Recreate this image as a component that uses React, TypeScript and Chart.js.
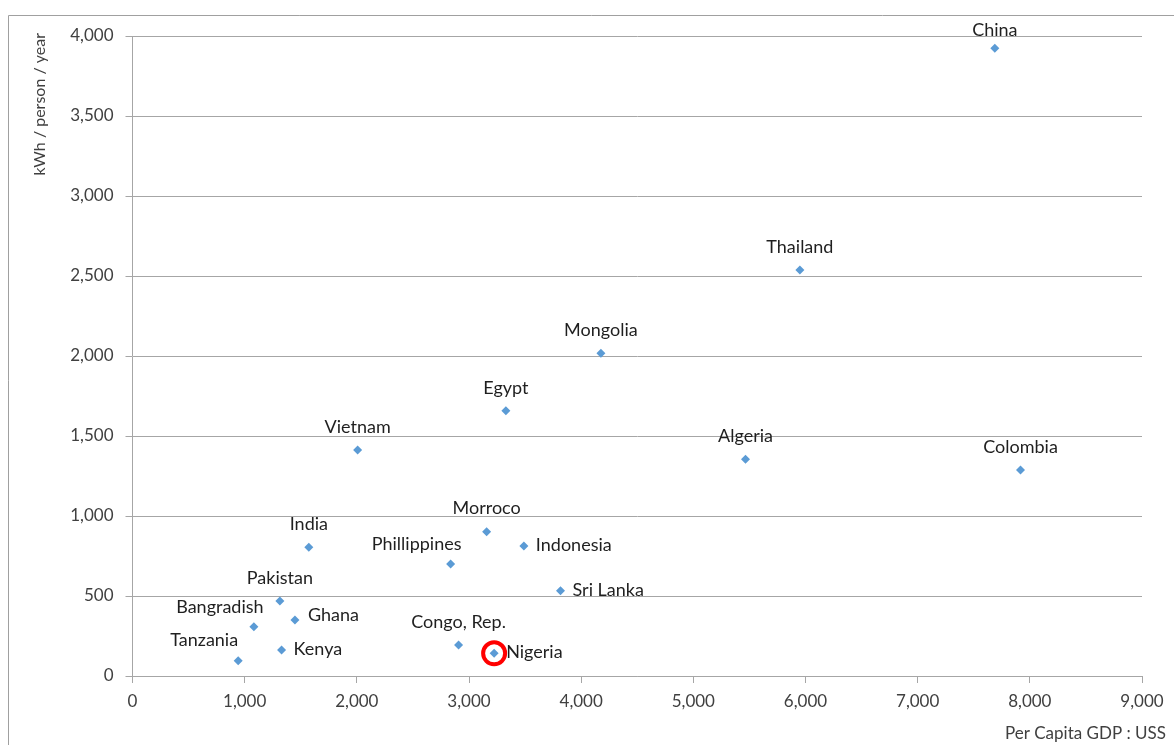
import React, { useEffect, useRef } from "react";
import { Chart, registerables } from "chart.js";

Chart.register(...registerables);

const countries = ["China", "Thailand", "Mongolia", "Egypt", "Vietnam", "Algeria", "Colombia", "Morroco", "India", "Indonesia", "Phillippines", "Sri Lanka", "Pakistan", "Ghana", "Bangradish", "Congo, Rep.", "Nigeria", "Kenya", "Tanzania"];
const gdpPerCapita = [7688, 5950, 4176, 3329, 2007, 5465, 7917, 3157, 1572, 3489, 2836, 3816, 1314, 1448, 1082, 2907, 3224, 1329, 942];
const kwhPerPerson = [3923, 2538, 2017, 1658, 1413, 1354, 1288, 902, 804, 813, 700, 533, 469, 350, 308, 194, 142, 163, 96];
const labelSide = ["topClamp", "top", "top", "top", "top", "top", "top", "top", "top", "right", "topLeft", "right", "top", "rightUp", "topLeft", "top", "right", "right", "topLeft"];
const highlighted = ["Nigeria"];
const xTicks = [0, 1000, 2000, 3000, 4000, 5000, 6000, 7000, 8000, 9000];
const yTicks = [0, 500, 1000, 1500, 2000, 2500, 3000, 3500, 4000];
const xTitle = "Per Capita GDP : USS";
const yTitle = "kWh / person / year";

const FONT = "Lato, 'Open Sans', sans-serif";
const TEXT = "#404040";
const GRID = "#a6a6a6";

const fmt = (v: number) => v.toLocaleString("en-US");

const overlayPlugin = {
  id: "overlay",
  afterDatasetsDraw(chart: any) {
    const ctx = chart.ctx;
    const meta = chart.getDatasetMeta(0);
    ctx.save();
    ctx.font = `18px ${FONT}`;
    ctx.fillStyle = "#1f1f1f";
    meta.data.forEach((el: any, i: number) => {
      const side = labelSide[i];
      const name = countries[i];
      let x = el.x, y = el.y;
      ctx.textBaseline = "middle";
      if (side === "top") { ctx.textAlign = "center"; y -= 23; }
      else if (side === "topClamp") { ctx.textAlign = "center"; y -= 18; }
      else if (side === "right") { ctx.textAlign = "left"; x += 12; y -= 1; }
      else if (side === "rightUp") { ctx.textAlign = "left"; x += 13; y -= 5; }
      else if (side === "topLeft") { ctx.textAlign = "center"; x -= 34; y -= 20; }
      ctx.fillText(name, x, y);
      if (highlighted.includes(name)) {
        ctx.beginPath();
        ctx.strokeStyle = "#ff0000";
        ctx.lineWidth = 4;
        ctx.arc(el.x, el.y, 11, 0, Math.PI * 2);
        ctx.stroke();
      }
    });
    // axis titles
    ctx.fillStyle = TEXT;
    ctx.font = `17px ${FONT}`;
    ctx.textAlign = "right";
    ctx.textBaseline = "middle";
    ctx.fillText(xTitle, 1166, 734);
    ctx.save();
    ctx.translate(40, 33);
    ctx.rotate(-Math.PI / 2);
    ctx.textAlign = "right";
    ctx.textBaseline = "middle";
    ctx.font = `16px ${FONT}`;
    ctx.fillText(yTitle, 0, 0);
    ctx.restore();
    // outer frame
    ctx.strokeStyle = "#a0a0a0";
    ctx.lineWidth = 1;
    ctx.beginPath();
    ctx.moveTo(8.5, 745);
    ctx.lineTo(8.5, 15.5);
    ctx.lineTo(1174, 15.5);
    ctx.stroke();
    ctx.restore();
  },
};

export default function App() {
  const ref = useRef<HTMLCanvasElement | null>(null);
  useEffect(() => {
    if (!ref.current) return;
    const chart = new Chart(ref.current, {
      type: "scatter",
      data: {
        datasets: [
          {
            data: countries.map((_, i) => ({ x: gdpPerCapita[i], y: kwhPerPerson[i] })),
            pointStyle: "rectRot",
            pointRadius: 4.5,
            pointBackgroundColor: "#5b9bd5",
            pointBorderColor: "#5b9bd5",
            pointBorderWidth: 0,
          },
        ],
      },
      options: {
        animation: false,
        responsive: false,
        layout: { padding: { top: 36, right: 32, left: 0, bottom: 0 } },
        plugins: { legend: { display: false }, tooltip: { enabled: false } },
        scales: {
          x: {
            type: "linear",
            min: 0,
            max: 9000,
            afterBuildTicks: (s: any) => { s.ticks = xTicks.map((v) => ({ value: v })); },
            afterFit: (s: any) => { s.height = 69; },
            grid: { drawOnChartArea: false, drawTicks: true, tickLength: 7, color: GRID },
            border: { color: GRID },
            ticks: { color: TEXT, font: { family: FONT, size: 17 }, padding: 8, callback: (v: any) => fmt(Number(v)), maxRotation: 0 },
          },
          y: {
            type: "linear",
            min: 0,
            max: 4000,
            afterBuildTicks: (s: any) => { s.ticks = yTicks.map((v) => ({ value: v })); },
            afterFit: (s: any) => { s.width = 132.5; },
            grid: { drawOnChartArea: true, drawTicks: true, tickLength: 7, color: GRID },
            border: { color: GRID },
            ticks: { color: TEXT, font: { family: FONT, size: 17 }, padding: 12, callback: (v: any) => fmt(Number(v)) },
          },
        },
      },
      plugins: [overlayPlugin],
    });
    return () => chart.destroy();
  }, []);
  return (
    <div style={{ position: "fixed", left: 0, top: 0, width: 1174, height: 745, background: "#fff" }}>
      <canvas ref={ref} width={1174} height={745} style={{ display: "block" }} />
    </div>
  );
}
